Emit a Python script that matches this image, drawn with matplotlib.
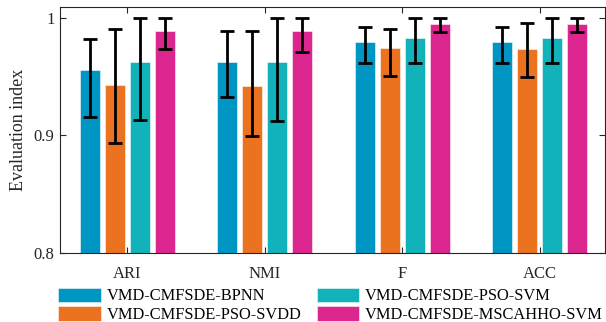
import matplotlib
matplotlib.use("Agg")
import matplotlib.pyplot as plt
import numpy as np

plt.rcParams['font.family'] = ['Liberation Serif', 'DejaVu Serif']

categories = ["ARI", "NMI", "F", "ACC"]
models = ["VMD-CMFSDE-BPNN", "VMD-CMFSDE-PSO-SVDD", "VMD-CMFSDE-PSO-SVM", "VMD-CMFSDE-MSCAHHO-SVM"]
colors = ["#0096C3", "#EB7320", "#11B2B9", "#DB268F"]

# mean values per model (rows) for each category (columns)
values = [
    [0.9555, 0.9629, 0.9796, 0.9796],
    [0.9430, 0.9422, 0.9742, 0.9739],
    [0.9623, 0.9629, 0.9833, 0.9833],
    [0.9892, 0.9892, 0.9952, 0.9952],
]
# error bar upper ends and lower ends
err_high = [
    [0.9824, 0.9887, 0.9924, 0.9924],
    [0.9910, 0.9887, 0.9907, 0.9958],
    [1.0000, 1.0000, 1.0000, 1.0000],
    [1.0000, 1.0000, 1.0000, 1.0000],
]
err_low = [
    [0.9159, 0.9329, 0.9618, 0.9618],
    [0.8932, 0.8992, 0.9504, 0.9499],
    [0.9130, 0.9127, 0.9618, 0.9618],
    [0.9737, 0.9710, 0.9881, 0.9881],
]
yticks = [0.8, 0.9, 1.0]
yticklabels = ["0.8", "0.9", "1"]

fig = plt.figure(figsize=(6.06, 3.22), dpi=100)
W, H = 606, 322
ax = fig.add_axes([60 / W, 1 - 252.6 / H, (605 - 60) / W, (252.6 - 7) / H])

x = np.arange(1, len(categories) + 1)
step = 0.1817
bw = 0.145
for i, (m, c) in enumerate(zip(models, colors)):
    v = np.array(values[i])
    lo = v - np.array(err_low[i])
    hi = np.array(err_high[i]) - v
    pos = x + (i - 1.5) * step
    ax.bar(pos, v - 0.8, bw, bottom=0.8, color=c, edgecolor=(1, 1, 1, 0.6), linewidth=0.6, label=m, zorder=2)
    ax.errorbar(pos, v, yerr=[lo, hi], fmt='none', ecolor='black', elinewidth=2.0,
                capsize=5, capthick=2.0, zorder=3)

ax.set_xlim(0.51, 4.475)
ax.set_ylim(0.8, 1.0096)
ax.set_xticks(x)
ax.set_xticklabels(categories)
ax.set_yticks(yticks)
ax.set_yticklabels(yticklabels)
ax.tick_params(direction='in', top=True, right=True, length=4, width=0.8,
               labelsize=12, colors='#262626', labelcolor='#262626')
ax.tick_params(axis='x', pad=10)
ax.tick_params(axis='y', pad=4)
for s in ax.spines.values():
    s.set_color('#262626')
    s.set_linewidth(0.8)
ax.set_ylabel("Evaluation index", fontsize=13, color='#262626', labelpad=5)

fig.legend(loc='upper left', bbox_to_anchor=(58 / W, 1 - 287.5 / H), ncol=2, frameon=False,
           fontsize=11.8, handlelength=2.6, handleheight=1.0, handletextpad=0.35,
           labelspacing=0.1, columnspacing=0.95, borderaxespad=0, borderpad=0)

fig.savefig("out.png", dpi=100)
